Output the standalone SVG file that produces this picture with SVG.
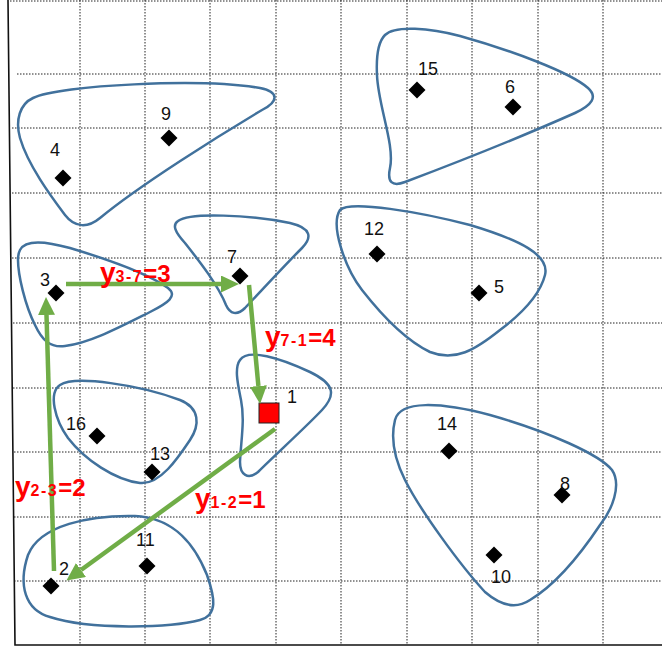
<svg xmlns="http://www.w3.org/2000/svg" width="662" height="653" viewBox="0 0 662 653">
<defs>
<style>
.grid line{stroke:#222;stroke-width:1;stroke-dasharray:1.5 1.5;fill:none}
.axis{stroke:#111;stroke-width:1.6;fill:none}
.blob{fill:none;stroke:#41719C;stroke-width:2.5}
.pt{fill:#000}
.num{font-family:"Liberation Sans",Arial,sans-serif;font-size:18px;fill:#111}
.arr{stroke:#70AD47;stroke-width:4.5;fill:none;marker-end:url(#ah)}
.lab{font-family:"Liberation Sans",Arial,sans-serif;font-weight:bold;font-size:24px;fill:#FF0000}
.lab .yy{font-size:28px}
.lab .sub{font-size:16px;letter-spacing:1.5px}
</style>
<marker id="ah" markerUnits="userSpaceOnUse" markerWidth="18" markerHeight="17" refX="0" refY="8.5" orient="auto">
<path d="M0,0 L18,8.5 L0,17 Z" fill="#70AD47"/>
</marker>
<path id="dm" d="M0,-8.5 L8.5,0 L0,8.5 L-8.5,0 Z"/>
</defs>
<rect width="662" height="653" fill="#fff"/>
<g class="grid">
<line x1="10" y1="1" x2="662" y2="1"/>
<line x1="17" y1="74" x2="662" y2="74"/>
<line x1="12" y1="128" x2="662" y2="128"/>
<line x1="12" y1="193" x2="662" y2="193"/>
<line x1="12" y1="258" x2="662" y2="258"/>
<line x1="13" y1="323" x2="662" y2="323"/>
<line x1="13" y1="388" x2="662" y2="388"/>
<line x1="14" y1="452" x2="662" y2="452"/>
<line x1="14" y1="517" x2="662" y2="517"/>
<line x1="14" y1="581" x2="662" y2="581"/>
<line x1="80" y1="0" x2="80" y2="645"/>
<line x1="145" y1="0" x2="145" y2="645"/>
<line x1="210" y1="0" x2="210" y2="645"/>
<line x1="276" y1="0" x2="276" y2="645"/>
<line x1="341" y1="0" x2="341" y2="645"/>
<line x1="407" y1="0" x2="407" y2="645"/>
<line x1="472" y1="0" x2="472" y2="645"/>
<line x1="538" y1="0" x2="538" y2="645"/>
<line x1="603" y1="0" x2="603" y2="645"/>
</g>
<path class="axis" d="M8,0 L15,645 L662,645"/>
<g id="cluster-4-9">
<path class="blob" d="M 33,98 C 60,85 200,78 260,88 C 280,92 278,102 262,110 C 220,135 140,185 100,218 C 88,228 75,228 65,215 C 50,195 28,165 20,138 C 15,120 20,104 33,98 Z"/>
</g>
<g id="cluster-3">
<path class="blob" d="M 20,250 C 25,240 45,241 70,248 C 110,260 150,275 168,288 C 178,296 168,303 150,312 C 120,327 90,343 65,346 C 50,348 42,340 35,325 C 25,305 18,275 18,260 C 18,255 19,252 20,250 Z"/>
</g>
<g id="cluster-7">
<path class="blob" d="M 178,221 C 190,212 250,215 290,223 C 312,228 312,238 302,248 C 285,265 262,290 245,308 C 237,316 230,314 226,305 C 218,285 200,262 185,243 C 175,232 172,225 178,221 Z"/>
</g>
<g id="cluster-15-6">
<path class="blob" d="M 385,35 C 395,25 430,28 460,36 C 510,50 570,72 588,88 C 598,97 592,105 575,113 C 530,133 450,165 405,182 C 392,187 387,182 390,168 C 395,145 378,105 377,75 C 376,55 378,42 385,35 Z"/>
</g>
<g id="cluster-12-5">
<path class="blob" d="M 340,210 C 350,200 420,212 470,225 C 520,240 550,255 545,275 C 540,295 520,315 500,330 C 475,350 455,362 430,352 C 405,340 380,313 362,290 C 345,268 330,225 340,210 Z"/>
</g>
<g id="cluster-1">
<path class="blob" d="M 240,360 C 248,348 280,358 310,372 C 335,384 336,395 322,410 C 305,428 275,455 258,472 C 248,480 240,475 240,462 C 241,440 245,420 241,400 C 238,385 234,368 240,360 Z"/>
</g>
<g id="cluster-16-13">
<path class="blob" d="M 60,385 C 75,375 140,385 180,400 C 200,408 200,425 190,440 C 178,458 160,485 140,483 C 115,480 85,460 68,438 C 55,420 48,393 60,385 Z"/>
</g>
<g id="cluster-2-11">
<path class="blob" d="M 28,555 C 40,525 90,515 135,516 C 175,518 195,545 207,575 C 215,598 218,615 200,620 C 170,628 90,630 50,617 C 25,610 18,585 28,555 Z"/>
</g>
<g id="cluster-14-8-10">
<path class="blob" d="M 395,420 C 400,400 440,402 490,415 C 550,432 600,455 612,470 C 622,485 612,510 600,525 C 580,555 555,585 530,600 C 515,610 500,605 485,592 C 460,565 420,510 405,480 C 395,460 390,440 395,420 Z"/>
</g>
<g id="n4"><use href="#dm" class="pt" x="63" y="178"/><text class="num" x="50" y="156">4</text></g>
<g id="n9"><use href="#dm" class="pt" x="169" y="138"/><text class="num" x="161" y="120">9</text></g>
<g id="n3"><use href="#dm" class="pt" x="56" y="293"/><text class="num" x="40" y="286">3</text></g>
<g id="n7"><use href="#dm" class="pt" x="240" y="276"/><text class="num" x="227" y="263">7</text></g>
<g id="n15"><use href="#dm" class="pt" x="417" y="90"/><text class="num" x="418" y="75">15</text></g>
<g id="n6"><use href="#dm" class="pt" x="513" y="107"/><text class="num" x="505" y="93">6</text></g>
<g id="n12"><use href="#dm" class="pt" x="377" y="254"/><text class="num" x="364" y="235">12</text></g>
<g id="n5"><use href="#dm" class="pt" x="479" y="293"/><text class="num" x="494" y="293">5</text></g>
<g id="n1"><rect x="259" y="403" width="20" height="20" fill="#FF0000" stroke="#222" stroke-width="1"/><text class="num" x="287" y="403">1</text></g>
<g id="n16"><use href="#dm" class="pt" x="97" y="436"/><text class="num" x="66" y="430">16</text></g>
<g id="n13"><use href="#dm" class="pt" x="152" y="472"/><text class="num" x="150" y="460">13</text></g>
<g id="n11"><use href="#dm" class="pt" x="147" y="566"/><text class="num" x="136" y="546">11</text></g>
<g id="n2"><use href="#dm" class="pt" x="51" y="586"/><text class="num" x="59" y="575">2</text></g>
<g id="n14"><use href="#dm" class="pt" x="449" y="451"/><text class="num" x="437" y="430">14</text></g>
<g id="n8"><use href="#dm" class="pt" x="562" y="495"/><text class="num" x="560" y="490">8</text></g>
<g id="n10"><use href="#dm" class="pt" x="494" y="555"/><text class="num" x="491" y="583">10</text></g>
<g id="connectors">
<line class="arr" x1="66" y1="284" x2="221" y2="284"/>
<line class="arr" x1="249" y1="285" x2="258.4" y2="386"/>
<line class="arr" x1="275" y1="429" x2="81" y2="570"/>
<line class="arr" x1="54" y1="571" x2="46.5" y2="315"/>
<text class="lab" x="100" y="282"><tspan class="yy">y</tspan><tspan class="sub">3-7</tspan>=3</text>
<text class="lab" x="265" y="346"><tspan class="yy">y</tspan><tspan class="sub">7-1</tspan>=4</text>
<text class="lab" x="15" y="496"><tspan class="yy">y</tspan><tspan class="sub">2-3</tspan>=2</text>
<text class="lab" x="195" y="508"><tspan class="yy">y</tspan><tspan class="sub">1-2</tspan>=1</text>
</g>
</svg>
